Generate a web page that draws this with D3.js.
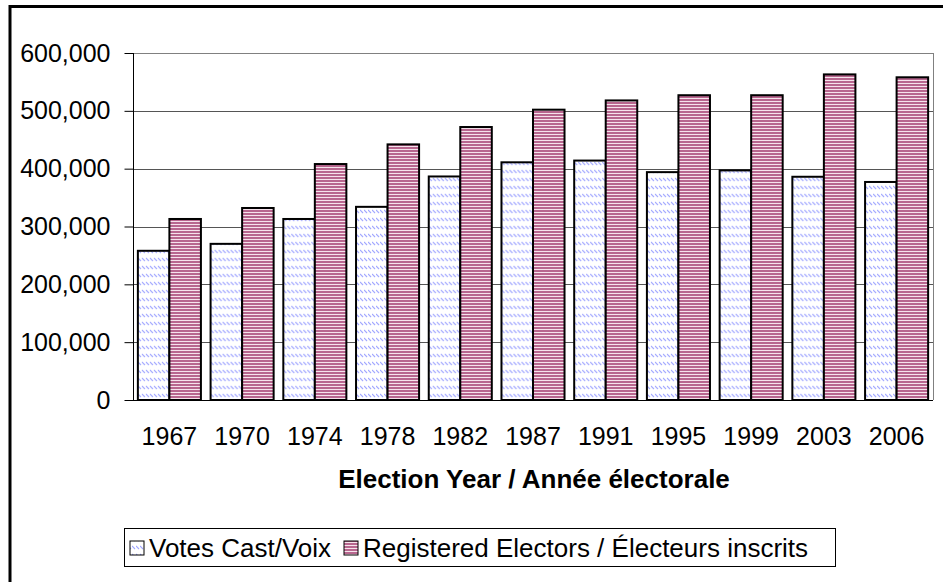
<!DOCTYPE html>
<html>
<head>
<meta charset="utf-8">
<script src="https://cdn.jsdelivr.net/npm/d3@7"></script>
<style>
body{margin:0;background:#fff}
text{font-family:"Liberation Sans",Arial,sans-serif}
</style>
</head>
<body>
<div id="chart"></div>
<script>
const years=["1967","1970","1974","1978","1982","1987","1991","1995","1999","2003","2006"]
const votesCast=[258000,270000,313000,334000,386500,411000,414000,394000,397000,386000,377000]
const registered=[313000,332000,408000,442000,472000,502000,518000,527000,527000,563000,558000]
const seriesNames=["Votes Cast/Voix","Registered Electors / Électeurs inscrits"]
const yTicks=[0,100000,200000,300000,400000,500000,600000]

const width=943
const height=582
const plot={left:133,right:933,top:53,bottom:400}

const svg=d3.select("#chart")
.append("svg")
.attr("width",width)
.attr("height",height)

const defs=svg.append("defs")

// light blue dashed diagonal pattern
const pv=defs.append("pattern")
.attr("id","votes")
.attr("patternUnits","userSpaceOnUse")
.attr("width",4)
.attr("height",8)
pv.append("rect").attr("width",4).attr("height",8).attr("fill","#fff")
pv.append("path").attr("d","M0,2 L3,5").attr("stroke","#a0a6ff").attr("stroke-width",1.1)

// mauve horizontal stripes
const pr=defs.append("pattern")
.attr("id","reg")
.attr("patternUnits","userSpaceOnUse")
.attr("width",4)
.attr("height",3)
pr.append("rect").attr("width",4).attr("height",3).attr("fill","#b8678f")
pr.append("rect").attr("y",2).attr("width",4).attr("height",1).attr("fill","#f6e3ec")

// outer frame
svg.append("rect")
.attr("x",10).attr("y",6.5)
.attr("width",980).attr("height",620)
.attr("fill","none").attr("stroke","#000").attr("stroke-width",3)

const x=d3.scaleBand()
.domain(years)
.range([plot.left,plot.right])
.paddingInner(0.133)
.paddingOuter(0.067)

const xs=d3.scaleBand()
.domain([0,1])
.range([0,x.bandwidth()])

const y=d3.scaleLinear()
.domain([0,600000])
.range([plot.bottom,plot.top])

// gridlines
svg.append("g")
.selectAll("line")
.data(yTicks.slice(1))
.enter()
.append("line")
.attr("x1",plot.left).attr("x2",plot.right)
.attr("y1",d=>Math.round(y(d))+0.5).attr("y2",d=>Math.round(y(d))+0.5)
.attr("stroke",(d,i)=>i===yTicks.length-2?"#808080":"#555")

// plot right border
svg.append("line")
.attr("x1",plot.right+0.5).attr("x2",plot.right+0.5)
.attr("y1",plot.top).attr("y2",plot.bottom)
.attr("stroke","#808080")

const groups=svg.append("g")
.selectAll("g")
.data(years)
.enter()
.append("g")
.attr("transform",d=>`translate(${x(d)},0)`)

groups.append("rect")
.attr("x",xs(0))
.attr("width",xs.bandwidth())
.attr("y",(d,i)=>y(votesCast[i]))
.attr("height",(d,i)=>plot.bottom-y(votesCast[i]))
.attr("fill","url(#votes)")
.attr("stroke","#000").attr("stroke-width",2)

groups.append("rect")
.attr("x",xs(1))
.attr("width",xs.bandwidth())
.attr("y",(d,i)=>y(registered[i]))
.attr("height",(d,i)=>plot.bottom-y(registered[i]))
.attr("fill","url(#reg)")
.attr("stroke","#000").attr("stroke-width",2)

// y axis
const yAxis=svg.append("g")
.attr("transform",`translate(${plot.left+0.5},0)`)
.call(d3.axisLeft(y).tickValues(yTicks).tickSize(9).tickPadding(14).tickFormat(d3.format(",")))
yAxis.selectAll("text").attr("font-size",25).attr("fill","#000").style("font-family","Liberation Sans, Arial, sans-serif")
yAxis.selectAll("line,path").attr("stroke","#000")
yAxis.select(".domain").attr("d",`M-0,${plot.top}V${plot.bottom}`)

// x axis
const xAxis=svg.append("g")
.attr("transform",`translate(0,${plot.bottom+0.5})`)
.call(d3.axisBottom(x).tickSize(0).tickPadding(27))
xAxis.selectAll("text").attr("font-size",25).attr("fill","#000").style("font-family","Liberation Sans, Arial, sans-serif")
xAxis.select(".domain").attr("stroke","#000").attr("d",`M${plot.left},0H${plot.right}`)

svg.append("text")
.attr("x",534).attr("y",488)
.attr("text-anchor","middle")
.attr("font-size",26)
.attr("font-weight","bold")
.text("Election Year / Année électorale")

// legend
const legend=svg.append("g")
legend.append("rect")
.attr("x",124.5).attr("y",528.5)
.attr("width",711).attr("height",38)
.attr("fill","#fff").attr("stroke","#000")

const legX=[130,344]
const fills=["url(#votes)","url(#reg)"]
seriesNames.forEach((name,i)=>{
legend.append("rect")
.attr("x",legX[i]).attr("y",541)
.attr("width",14).attr("height",14)
.attr("fill",fills[i]).attr("stroke","#000")
legend.append("text")
.attr("x",legX[i]+19).attr("y",557)
.attr("font-size",26)
.text(name)
})
</script>
</body>
</html>
